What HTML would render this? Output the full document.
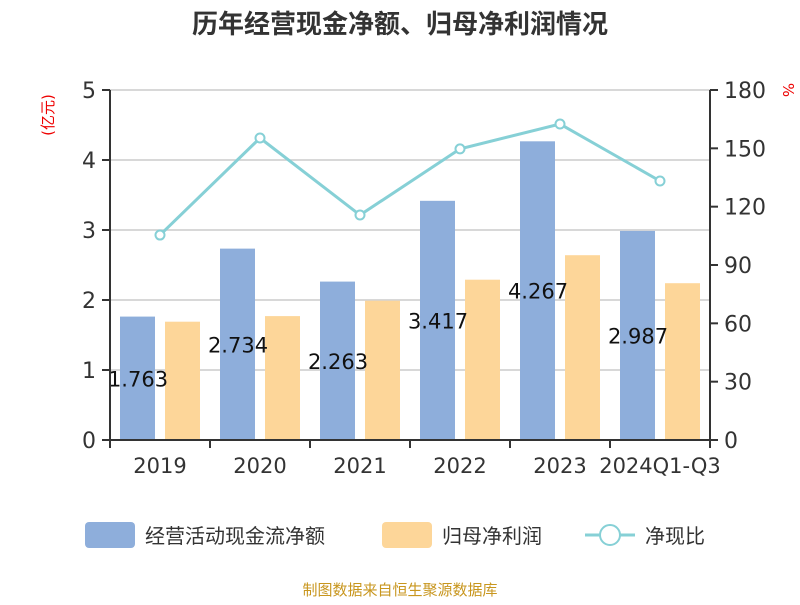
<!DOCTYPE html>
<html><head><meta charset="utf-8"><style>
body{margin:0;background:#fff;}
svg text{font-family:"DejaVu Sans","Noto Sans CJK SC",sans-serif;}
</style></head><body>
<svg width="800" height="600" xmlns="http://www.w3.org/2000/svg">
<text x="400" y="33" text-anchor="middle" font-size="26" font-weight="bold" fill="#333" style="font-family:'Liberation Sans','Noto Sans CJK SC',sans-serif">历年经营现金净额、归母净利润情况</text>
<text transform="translate(53,115) rotate(-90)" text-anchor="middle" font-size="15" fill="#e00">(亿元)</text>
<text transform="translate(783,90) rotate(90)" text-anchor="middle" font-size="15" fill="#e00">%</text>
<g id="grid"></g><g id="bars"></g><g id="line"></g><g id="axes"></g>
<g>
<rect x="85" y="522" width="50" height="26" rx="4" fill="#8eaedb"/>
<text x="145" y="543" font-size="20" fill="#333">经营活动现金流净额</text>
<rect x="382" y="522" width="50" height="26" rx="4" fill="#fdd699"/>
<text x="442" y="543" font-size="20" fill="#333">归母净利润</text>
<line x1="585" y1="535" x2="635" y2="535" stroke="#86d0d6" stroke-width="3"/>
<circle cx="610" cy="535" r="10" fill="#fff" stroke="#86d0d6" stroke-width="2"/>
<text x="645" y="543" font-size="20" fill="#333">净现比</text>
</g>
<text x="400" y="595" text-anchor="middle" font-size="15" fill="#c8961e">制图数据来自恒生聚源数据库</text>
</svg>
<script>
const categories=["2019","2020","2021","2022","2023","2024Q1-Q3"];
const cashFlow=[1.763,2.734,2.263,3.417,4.267,2.987];
const netProfit=[1.69,1.77,1.99,2.29,2.64,2.24];
const ratio=[105.4,155.3,115.7,149.7,162.5,133.2];
const leftTicks=[0,1,2,3,4,5];
const rightTicks=[0,30,60,90,120,150,180];
const NS="http://www.w3.org/2000/svg";
const X0=110,X1=710,Y0=440,Y1=90;
const bw=(X1-X0)/categories.length;
const yL=v=>Y0-(v/5)*(Y0-Y1);
const yR=v=>Y0-(v/180)*(Y0-Y1);
const xC=i=>X0+bw*(i+0.5);
function mk(tag,attrs,parent,txt){const e=document.createElementNS(NS,tag);for(const k in attrs)e.setAttribute(k,attrs[k]);if(txt!==undefined)e.textContent=txt;document.getElementById(parent).appendChild(e);return e;}
leftTicks.forEach(t=>{
 if(t>0){const g=mk('line',{x1:X0,x2:X1,y1:yL(t),y2:yL(t),stroke:'#ccc','stroke-width':1.5},'grid');
 
 }
 const tk=mk('line',{x1:X0-8,x2:X0,y1:yL(t),y2:yL(t),stroke:'#333','stroke-width':2},'axes');
 
 
 const l=mk('text',{x:X0-14,y:yL(t)+8,'text-anchor':'end','font-size':22,fill:'#333'},'axes',String(t));
 
 
});
rightTicks.forEach(t=>{
 const tk=mk('line',{x1:X1,x2:X1+8,y1:yR(t),y2:yR(t),stroke:'#333','stroke-width':2},'axes');
 
 
 const l=mk('text',{x:X1+14,y:yR(t)+8,'font-size':22,fill:'#333'},'axes',String(t));
 
 
});
let a=mk('line',{x1:X0,x2:X0,y1:Y1,y2:Y0,stroke:'#333','stroke-width':2},'axes');


a=mk('line',{x1:X1,x2:X1,y1:Y1,y2:Y0,stroke:'#333','stroke-width':2},'axes');


a=mk('line',{x1:X0,x2:X1,y1:Y0,y2:Y0,stroke:'#333','stroke-width':2},'axes');


for(let i=0;i<=categories.length;i++){
 const t=mk('line',{x1:X0+bw*i,x2:X0+bw*i,y1:Y0,y2:Y0+8,stroke:'#333','stroke-width':2},'axes');
 
 
}
categories.forEach((c,i)=>{
 const l=mk('text',{x:xC(i),y:Y0+33,'text-anchor':'middle','font-size':21,fill:'#333'},'axes',c);
 
 
 const b=mk('rect',{x:xC(i)-40,y:yL(cashFlow[i]),width:35,height:Y0-yL(cashFlow[i]),fill:'#8eaedb'},'bars');
 
 
 const p=mk('rect',{x:xC(i)+5,y:yL(netProfit[i]),width:35,height:Y0-yL(netProfit[i]),fill:'#fdd699'},'bars');
 
 
 const v=mk('text',{x:xC(i)-22,y:(yL(cashFlow[i])+Y0)/2+8,'text-anchor':'middle','font-size':21,fill:'#111'},'bars',cashFlow[i].toFixed(3));
 
 
});
const pl=mk('polyline',{points:ratio.map((v,i)=>xC(i)+','+yR(v)).join(' '),fill:'none',stroke:'#86d0d6','stroke-width':3},'line');


ratio.forEach((v,i)=>{
 const c=mk('circle',{cx:xC(i),cy:yR(v),r:4.5,fill:'#fff',stroke:'#86d0d6','stroke-width':2},'line');
 
 
});
</script>
</body></html>
